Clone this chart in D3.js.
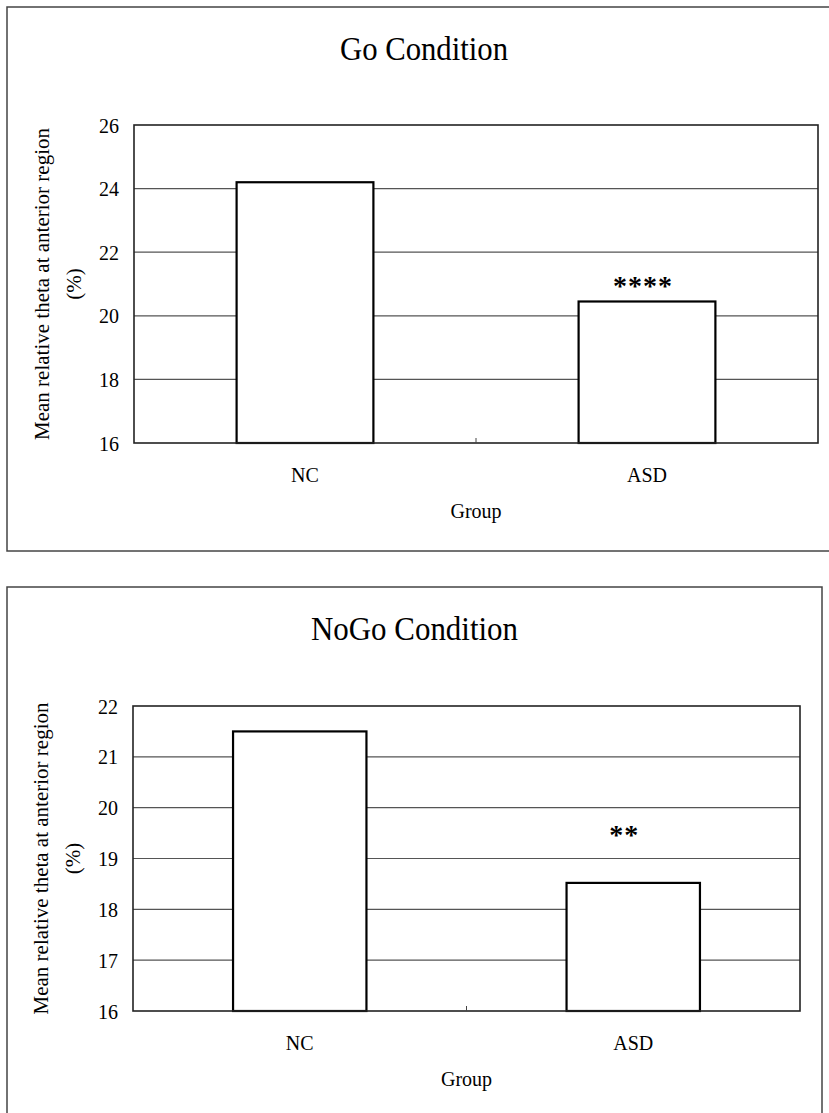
<!DOCTYPE html>
<html>
<head>
<meta charset="utf-8">
<script src="https://cdn.jsdelivr.net/npm/d3@7"></script>
<style>
  body { margin: 0; background: #fff; }
  svg text { font-family: "Liberation Serif", "Times New Roman", serif; fill: #000; }
</style>
</head>
<body>
<div id="chart"></div>
<script>
// data
var groups = ['NC', 'ASD'];
var go_values = [24.2, 20.45];
var nogo_values = [21.5, 18.52];
var go_ticks = [16, 18, 20, 22, 24, 26];
var nogo_ticks = [16, 17, 18, 19, 20, 21, 22];
var go_stars = ['', '****'];
var nogo_stars = ['', '**'];
var go_star_level = [0, 20.75];
var nogo_star_level = [0, 19.35];

var chart_width = 829;
var chart_height = 1113;
var serif = '"Liberation Serif", "Times New Roman", serif';

var svg = d3.select('#chart')
    .append('svg')
    .attr('width', chart_width)
    .attr('height', chart_height)

// one panel = frame + title + bar chart
function drawPanel(p) {
    var g = svg.append('g');

    g.append('rect')
        .attr('x', p.frame[0])
        .attr('y', p.frame[1])
        .attr('width', p.frame[2])
        .attr('height', p.frame[3])
        .attr('fill', 'none')
        .attr('stroke', '#444')
        .attr('stroke-width', 1.5)

    g.append('text')
        .text(p.title)
        .attr('x', p.frame[0] + p.frame[2] / 2)
        .attr('y', p.frame[1] + 53)
        .attr('text-anchor', 'middle')
        .attr('font-size', 33)
        .attr('textLength', p.titleLen)
        .attr('lengthAdjust', 'spacingAndGlyphs')

    var x_scale = d3.scaleBand()
        .domain(groups)
        .range([p.left, p.right])
        .paddingInner(0.6)
        .paddingOuter(0.3)

    var y_scale = d3.scaleLinear()
        .domain(d3.extent(p.ticks))
        .range([p.bottom, p.top])

    // gridlines
    g.selectAll('.grid')
        .data(p.ticks.slice(1, -1))
        .enter()
        .append('line')
        .attr('x1', p.left)
        .attr('x2', p.right)
        .attr('y1', function (d) { return y_scale(d); })
        .attr('y2', function (d) { return y_scale(d); })
        .attr('stroke', '#555')
        .attr('stroke-width', 1.2)

    // bars
    g.selectAll('.bar')
        .data(p.values)
        .enter()
        .append('rect')
        .attr('x', function (d, i) { return x_scale(groups[i]); })
        .attr('y', function (d) { return y_scale(d); })
        .attr('width', x_scale.bandwidth())
        .attr('height', function (d) { return p.bottom - y_scale(d); })
        .attr('fill', '#fff')
        .attr('stroke', '#000')
        .attr('stroke-width', 2.2)

    // plot border
    g.append('rect')
        .attr('x', p.left)
        .attr('y', p.top)
        .attr('width', p.right - p.left)
        .attr('height', p.bottom - p.top)
        .attr('fill', 'none')
        .attr('stroke', '#222')
        .attr('stroke-width', 1.6)

    // tick between categories
    var mid = (x_scale(groups[0]) + x_scale.bandwidth() + x_scale(groups[1])) / 2;
    g.append('line')
        .attr('x1', mid).attr('x2', mid)
        .attr('y1', p.bottom).attr('y2', p.bottom - 5)
        .attr('stroke', '#444')
        .attr('stroke-width', 1)

    // y tick labels
    var y_axis = d3.axisLeft(y_scale)
        .tickValues(p.ticks)
        .tickSize(0)
        .tickPadding(15)
        .tickFormat(d3.format('d'))
    var ya = g.append('g')
        .attr('transform', 'translate(' + p.left + ',0)')
        .call(y_axis)
    ya.select('.domain').remove()
    ya.selectAll('text')
        .style('font-family', serif)
        .style('font-size', '20px')
        .attr('fill', '#000')
        .attr('dy', '0.35em')

    // x labels
    var x_axis = d3.axisBottom(x_scale).tickSize(0).tickPadding(0)
    var xa = g.append('g')
        .attr('transform', 'translate(0,' + p.bottom + ')')
        .call(x_axis)
    xa.select('.domain').remove()
    xa.selectAll('text')
        .style('font-family', serif)
        .style('font-size', '20px')
        .attr('fill', '#000')
        .attr('dy', null)
        .attr('y', 39)

    g.append('text')
        .text('Group')
        .attr('x', (p.left + p.right) / 2)
        .attr('y', p.bottom + 75)
        .attr('text-anchor', 'middle')
        .attr('font-size', 20)

    // y title, two lines
    var cy = (p.top + p.bottom) / 2;
    g.append('text')
        .text('Mean relative theta at anterior region')
        .attr('transform', 'translate(' + (p.left - 85) + ',' + cy + ') rotate(-90)')
        .attr('text-anchor', 'middle')
        .attr('font-size', 21)
    g.append('text')
        .text('(%)')
        .attr('transform', 'translate(' + (p.left - 53) + ',' + cy + ') rotate(-90)')
        .attr('text-anchor', 'middle')
        .attr('font-size', 21)

    // significance stars
    g.selectAll('.star')
        .data(p.stars)
        .enter()
        .append('text')
        .text(function (d) { return d; })
        .attr('x', function (d, i) { return x_scale(groups[i]) + x_scale.bandwidth() / 2 + p.starShift; })
        .attr('y', function (d, i) { return y_scale(p.starLevel[i]) + 3; })
        .attr('text-anchor', 'middle')
        .attr('font-size', 28)
        .attr('letter-spacing', 1)
        .attr('font-weight', 'bold')
}

drawPanel({
    title: 'Go Condition',
    titleLen: 168,
    frame: [7, 7, 834, 544],
    left: 134, right: 818, top: 125, bottom: 443,
    values: go_values,
    ticks: go_ticks,
    stars: go_stars,
    starLevel: go_star_level,
    starShift: -4
})

drawPanel({
    title: 'NoGo Condition',
    titleLen: 207,
    frame: [7, 587, 815, 540],
    left: 133, right: 800, top: 706, bottom: 1011,
    values: nogo_values,
    ticks: nogo_ticks,
    stars: nogo_stars,
    starLevel: nogo_star_level,
    starShift: -9
})
</script>
</body>
</html>
